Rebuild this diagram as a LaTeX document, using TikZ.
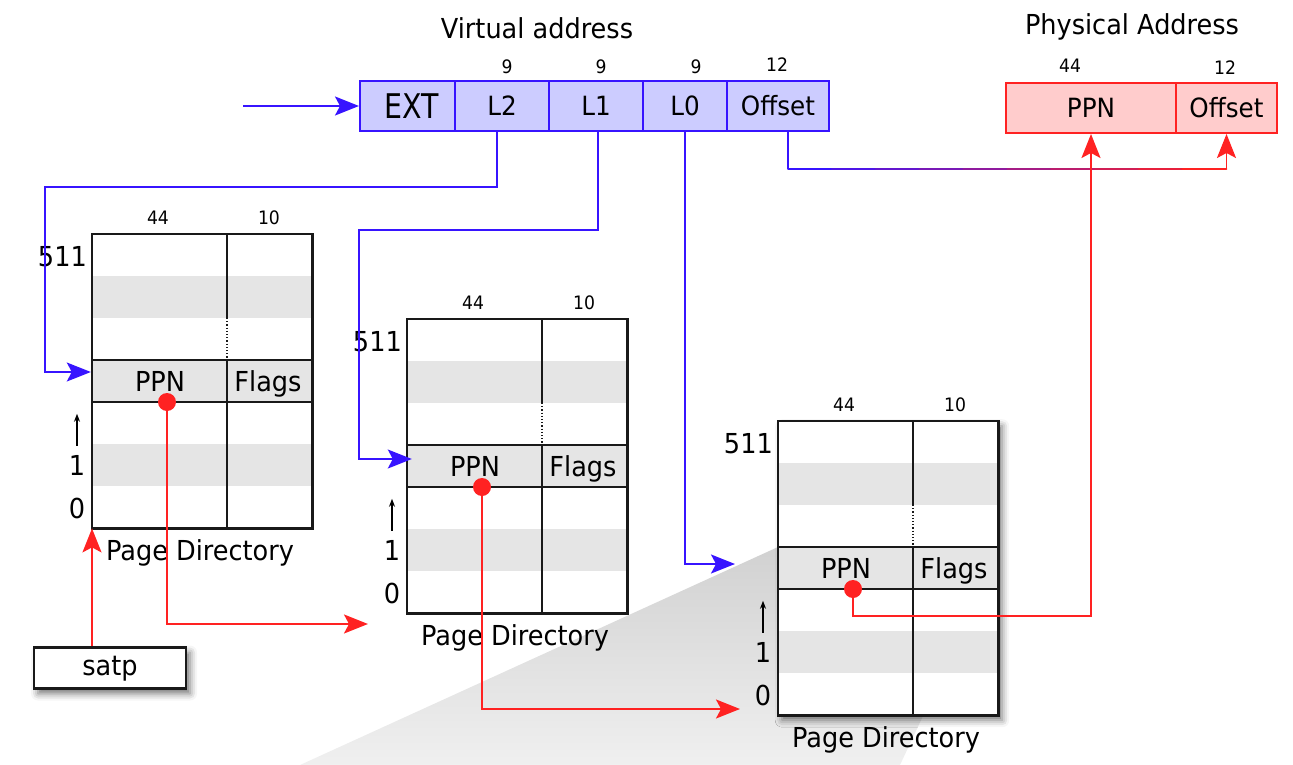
\documentclass[tikz,border=0pt]{standalone}
\usepackage{fontspec}
\setmainfont[FakeStretch=0.93]{DejaVu Sans}
\usetikzlibrary{arrows.meta,shadows.blur,calc}

\definecolor{vablue}{RGB}{55,20,255}
\definecolor{vafill}{RGB}{204,204,255}
\definecolor{pared}{RGB}{255,34,34}
\definecolor{pafill}{RGB}{255,204,204}

\newcommand{\pagedir}[4]{%
  \node[tbl,#4] (#1) at (#2,#3) {};
  \fill[black!10] (#2,#3+42) rectangle (#2+220,#3+84);
  \fill[black!10] (#2,#3+210) rectangle (#2+220,#3+252);
  \node[pperow] (#1-row) at (#2+110,#3+147) {};
  \draw[tblline] (#1.north west) rectangle (#1.south east);
  \draw[tblline] (#2+135,#3) -- (#2+135,#3+84);
  \draw[tblline,line width=1.2pt,dotted] (#2+135,#3+84) -- (#2+135,#3+126);
  \draw[tblline] (#2+135,#3+126) -- (#2+135,#3+294);
  \node[lbl,anchor=base] (#1-ppn) at (#2+68,#3+157) {PPN};
  \node[lbl,anchor=base] (#1-flags) at (#2+176,#3+157) {Flags};
  \node[bits] (#1-w44) at (#2+66,#3-16) {44};
  \node[bits] (#1-w10) at (#2+177,#3-16) {10};
  \node[lbl,anchor=east] (#1-top) at (#2-5,#3+23) {511};
  \node[lbl] (#1-one) at (#2-15,#3+231) {1};
  \node[lbl] (#1-zero) at (#2-15,#3+274) {0};
  \draw[-{Stealth[length=8pt,width=6pt]},line width=1.3pt] (#1-one.north) ++(0,-9) -- ++(0,-32);
  \node[lbl] (#1-cap) at (#2+108,#3+319) {Page Directory};
  \coordinate (#1-dot) at (#2+75,#3+168);
  \fill[pared] (#1-dot) circle (9pt);
}

\begin{document}
\begin{tikzpicture}[x=1pt,y=-1pt]
  \tikzstyle{lbl}=[font=\fontsize{27.5}{32}\selectfont,inner sep=0pt]
  \tikzstyle{bits}=[font=\fontsize{18.5}{22}\selectfont,inner sep=0pt]
  \tikzstyle{tbl}=[anchor=north west,fill=white,minimum width=220pt,minimum height=294pt,inner sep=0pt]
  \tikzstyle{tblline}=[line width=2.4pt,black!90]
  \tikzstyle{pperow}=[fill=black!10,draw=black!90,line width=2.4pt,minimum width=220pt,minimum height=42pt,inner sep=0pt]
  \tikzstyle{vacell}=[draw=vablue,fill=vafill,line width=2pt,minimum height=50pt,inner sep=0pt,font=\fontsize{26.5}{30}\selectfont]
  \tikzstyle{pacell}=[draw=pared,fill=pafill,line width=2pt,minimum height=50pt,inner sep=0pt,font=\fontsize{26.5}{30}\selectfont]
  \tikzstyle{bluearrow}=[vablue,line width=1.9pt,-{Stealth[length=24pt,width=19pt,inset=5pt]}]
  \tikzstyle{redarrow}=[pared,line width=1.9pt,-{Stealth[length=24pt,width=19pt,inset=5pt]}]
  \tikzstyle{boxshadow}=[blur shadow={shadow xshift=4pt,shadow yshift=-5pt,shadow blur radius=7pt,shadow opacity=55}]

  \useasboundingbox (0,0) rectangle (1293,765);
  \shade[top color=black!18,bottom color=black!6] (300,765) -- (778,547) -- (778,716) -- (923,716) -- (900,765) -- cycle;

  \node[lbl] (va-title) at (537,28) {Virtual address};
  \node[vacell,minimum width=95pt] (va-ext) at (407.5,106) {\hspace{8pt}\scalebox{0.9}[1]{\fontsize{34}{38}\selectfont EXT}};
  \node[vacell,minimum width=94pt] (va-l2) at (502,106) {L2};
  \node[vacell,minimum width=94pt] (va-l1) at (596,106) {L1};
  \node[vacell,minimum width=84pt] (va-l0) at (685,106) {L0};
  \node[vacell,minimum width=102pt] (va-off) at (778,106) {Offset};
  \node[bits] (va-b2) at (507,67) {9};
  \node[bits] (va-b1) at (601,67) {9};
  \node[bits] (va-b0) at (696,67) {9};
  \node[bits] (va-bo) at (777,65) {12};

  \node[lbl] (pa-title) at (1132,27) {Physical Address};
  \node[pacell,minimum width=170pt] (pa-ppn) at (1091,108) {PPN};
  \node[pacell,minimum width=101pt] (pa-off) at (1226.5,108) {Offset};
  \node[bits] (pa-bp) at (1070,66) {44};
  \node[bits] (pa-bo) at (1225,68) {12};

  \pagedir{t1}{92}{234}{}
  \pagedir{t2}{407}{319}{}
  \pagedir{t3}{778}{421}{boxshadow}

  \node[lbl,draw=black!90,fill=white,line width=2.4pt,minimum width=152pt,minimum height=41pt,text height=20pt,text depth=6pt,boxshadow] (satp) at (110,668) {satp};

  \coordinate (vain) at (243,106);
  \coordinate (l0end) at (735,564);
  \coordinate (t1end) at (368,624);
  \coordinate (t2end) at (740,709);

  \draw[bluearrow] (vain) -- (va-ext.west);
  \draw[bluearrow] ([xshift=-5pt]va-l2.south) |- (45,187) |- ([yshift=9pt]t1-row.west);
  \draw[bluearrow] ([xshift=2pt]va-l1.south) |- (359,230) |- ([yshift=7pt,xshift=6pt]t2-row.west);
  \draw[bluearrow] (va-l0.south) |- (l0end);

  \coordinate (offc) at ($(va-off.south)+(10,37)$);
  \coordinate (offe) at (offc -| pa-off.south);
  \draw[vablue,line width=1.9pt] ([xshift=10pt]va-off.south) -- (offc);
  \foreach \k in {0,...,9}{
    \pgfmathsetmacro\ka{\k/10}
    \pgfmathsetmacro\kb{(\k+1)/10}
    \pgfmathtruncatemacro\mix{\k*100/9}
    \draw[pared!\mix!vablue,line width=1.9pt,line cap=round] ($(offc)!\ka!(offe)$) -- ($(offc)!\kb!(offe)$);
  }
  \draw[redarrow] (offe) -- (pa-off.south);

  \draw[redarrow] (t1.south west |- satp.north) -- (t1.south west);
  \draw[redarrow] (t1-dot) |- (t1end);
  \draw[redarrow] (t2-dot) |- (t2end);
  \draw[redarrow] (t3-dot) -- ++(0,27) -| (pa-ppn.south);
\end{tikzpicture}
\end{document}
